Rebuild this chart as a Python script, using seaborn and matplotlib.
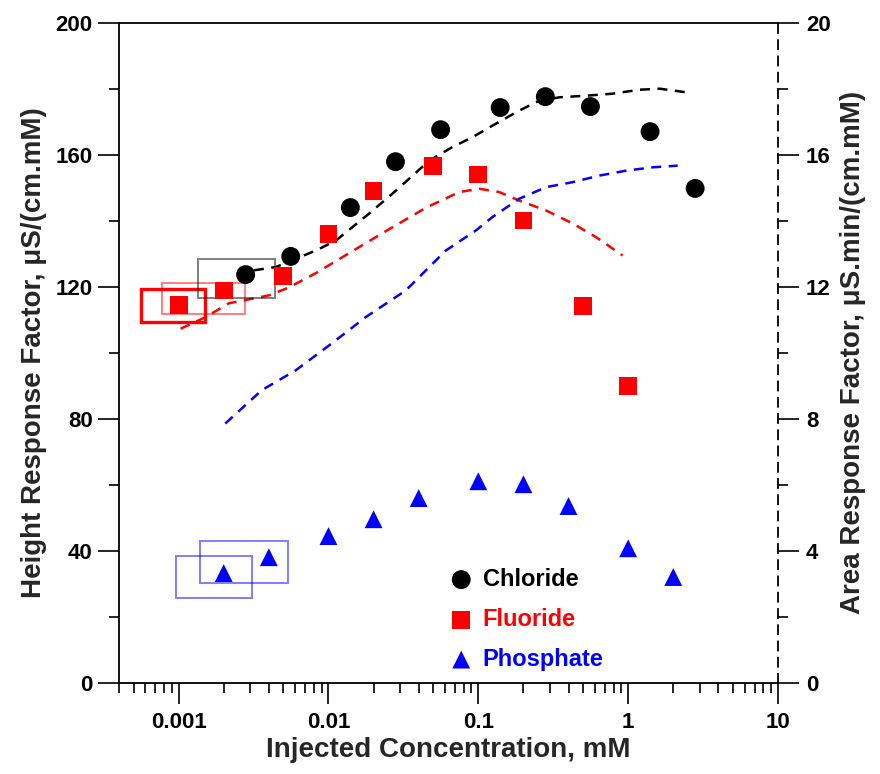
import numpy as np
import pandas as pd
import matplotlib
matplotlib.use("Agg")
import matplotlib.pyplot as plt
import seaborn as sns
from matplotlib.patches import Rectangle
from matplotlib.ticker import LogLocator, NullFormatter, FixedLocator

# ---- height response factors (left axis) ----
chloride_conc = [0.0028, 0.0056, 0.014, 0.028, 0.056, 0.14, 0.28, 0.56, 1.4, 2.8]
chloride_height = [123.7, 129.2, 144.0, 157.9, 167.6, 174.3, 177.6, 174.6, 167.0, 149.8]

fluoride_conc = [0.001, 0.002, 0.005, 0.01, 0.02, 0.05, 0.1, 0.2, 0.5, 1.0]
fluoride_height = [114.4, 118.9, 123.4, 135.9, 148.9, 156.7, 154.0, 140.1, 114.1, 89.9]

phosphate_conc = [0.002, 0.004, 0.01, 0.02, 0.04, 0.1, 0.2, 0.4, 1.0, 2.0]
phosphate_height = [33.3, 38.1, 44.5, 49.6, 56.0, 61.1, 60.2, 53.6, 40.8, 32.1]

# ---- area response factors (right axis, dashed curves) ----
chloride_area_conc = [0.00318, 0.00446, 0.00824, 0.0112, 0.0187, 0.0283, 0.047, 0.067,
                      0.0912, 0.124, 0.188, 0.256, 0.348, 0.527, 0.787, 1.19, 1.63, 2.46]
chloride_area = [12.50, 12.60, 13.10, 13.40, 14.22, 14.92, 15.82, 16.23,
                 16.53, 16.88, 17.34, 17.64, 17.74, 17.79, 17.85, 17.97, 18.00, 17.89]

fluoride_area_conc = [0.00103, 0.00151, 0.00216, 0.0040, 0.00544, 0.0082, 0.0123, 0.0228,
                      0.0449, 0.0746, 0.1017, 0.138, 0.188, 0.284, 0.426, 0.613, 0.918]
fluoride_area = [10.73, 11.08, 11.50, 11.74, 11.98, 12.41, 12.89, 13.62,
                 14.40, 14.87, 14.97, 14.87, 14.61, 14.31, 13.92, 13.50, 12.95]

phosphate_area_conc = [0.00205, 0.00359, 0.00604, 0.01055, 0.0177, 0.0328, 0.0607, 0.0966,
                       0.124, 0.188, 0.284, 0.426, 0.644, 0.973, 1.46, 2.14]
phosphate_area = [7.86, 8.87, 9.47, 10.29, 11.08, 11.89, 13.10, 13.71,
                  14.11, 14.67, 15.02, 15.17, 15.37, 15.52, 15.62, 15.67]

series_names = ["Chloride", "Fluoride", "Phosphate"]
x_tick_values = [0.001, 0.01, 0.1, 1, 10]
x_tick_labels = ["0.001", "0.01", "0.1", "1", "10"]

# highlight boxes around the lowest concentrations: (x0, x1, y0, y1)
highlight_boxes = [
    ((0.000563, 0.00151, 109.3, 119.2), dict(edgecolor="red", lw=2.4, alpha=1.0)),
    ((0.000773, 0.00279, 111.9, 121.2), dict(edgecolor="red", lw=1.4, alpha=0.5)),
    ((0.001346, 0.004367, 116.7, 128.4), dict(edgecolor="black", lw=1.4, alpha=0.5)),
    ((0.000959, 0.003093, 25.6, 38.4), dict(edgecolor="blue", lw=1.4, alpha=0.5)),
    ((0.001397, 0.005384, 30.2, 43.1), dict(edgecolor="blue", lw=1.4, alpha=0.5)),
]

sns.set_theme(style="ticks")
plt.rcParams["font.family"] = ["Liberation Sans", "DejaVu Sans"]
plt.rcParams["font.weight"] = "bold"
plt.rcParams["axes.labelweight"] = "bold"

fig = plt.figure(figsize=(8.8, 7.74), dpi=100)
ax = fig.add_axes([119 / 880, 1 - 683 / 774, (778 - 119) / 880, (683 - 22.7) / 774])
ax.set_xscale("log")
ax2 = ax.twinx()

colors = {"Chloride": "black", "Fluoride": "red", "Phosphate": "blue"}
dash = (0, (4, 3))

# dashed area-response curves on the right axis
for name, xs, ys in [("Chloride", chloride_area_conc, chloride_area),
                     ("Fluoride", fluoride_area_conc, fluoride_area),
                     ("Phosphate", phosphate_area_conc, phosphate_area)]:
    df = pd.DataFrame({"conc": xs, "area": ys})
    sns.lineplot(data=df, x="conc", y="area", ax=ax2, color=colors[name],
                 linestyle=dash, linewidth=1.8, sort=False, estimator=None, legend=False)

# height-response markers on the left axis
for name, xs, ys, mk, s in [("Chloride", chloride_conc, chloride_height, "o", 185),
                            ("Fluoride", fluoride_conc, fluoride_height, "s", 165),
                            ("Phosphate", phosphate_conc, phosphate_height, "^", 165)]:
    df = pd.DataFrame({"conc": xs, "height": ys})
    sns.scatterplot(data=df, x="conc", y="height", ax=ax, color=colors[name],
                    marker=mk, s=s, edgecolor="none", label=name, zorder=4)

for (x0, x1, y0, y1), st in highlight_boxes:
    ax.add_patch(Rectangle((x0, y0), x1 - x0, y1 - y0, fill=False, zorder=3, **st))

ax.set_zorder(ax2.get_zorder() + 1)
ax.patch.set_visible(False)

# axes limits and ticks
ax.set_xlim(0.0004, 10)
ax.set_ylim(0, 200)
ax2.set_ylim(0, 20)

ax.xaxis.set_major_locator(FixedLocator(x_tick_values))
ax.set_xticklabels(x_tick_labels)
ax.xaxis.set_minor_locator(LogLocator(base=10, subs=np.arange(2, 10)))
ax.xaxis.set_minor_formatter(NullFormatter())

ax.set_yticks(np.arange(0, 201, 40))
ax.set_yticks(np.arange(20, 200, 40), minor=True)
ax2.set_yticks(np.arange(0, 21, 4))
ax2.set_yticks(np.arange(2, 20, 4), minor=True)

for a in (ax, ax2):
    a.tick_params(which="major", length=15, width=1.2, direction="out",
                  labelsize=16, color="black", labelcolor="black")
    a.tick_params(which="minor", length=7, width=1.2, direction="out", color="black")
ax.tick_params(axis="x", which="major", pad=6)
ax.tick_params(axis="y", which="major", pad=4)
ax2.tick_params(axis="y", which="major", pad=5)
ax.tick_params(top=False, right=False, which="both")

for lbl in ax.get_xticklabels() + ax.get_yticklabels() + ax2.get_yticklabels():
    lbl.set_fontweight("bold")

for side in ("left", "bottom", "top"):
    ax.spines[side].set_linewidth(1.3)
    ax.spines[side].set_color("black")
ax.spines["right"].set_visible(False)
for side in ("left", "bottom", "top"):
    ax2.spines[side].set_visible(False)
ax2.spines["right"].set_linestyle((0, (5, 4)))
ax2.spines["right"].set_linewidth(1.3)
ax2.spines["right"].set_color("black")

ax.set_xlabel("Injected Concentration, mM", fontsize=20, fontweight="bold", labelpad=3)
ax.set_ylabel("Height Response Factor, μS/(cm.mM)", fontsize=20, fontweight="bold", labelpad=6)
ax2.set_ylabel("Area Response Factor, μS.min/(cm.mM)", fontsize=20, fontweight="bold", labelpad=7)

leg = ax.legend(loc="upper left", bbox_to_anchor=(440 / 880, 1 - 556 / 774),
                bbox_transform=fig.transFigure, frameon=False,
                handlelength=0.8, handletextpad=0.5, labelspacing=0.72,
                borderpad=0, prop={"weight": "bold", "size": 17})
for txt, name in zip(leg.get_texts(), series_names):
    txt.set_color(colors[name])

fig.savefig("out.png", dpi=100)
